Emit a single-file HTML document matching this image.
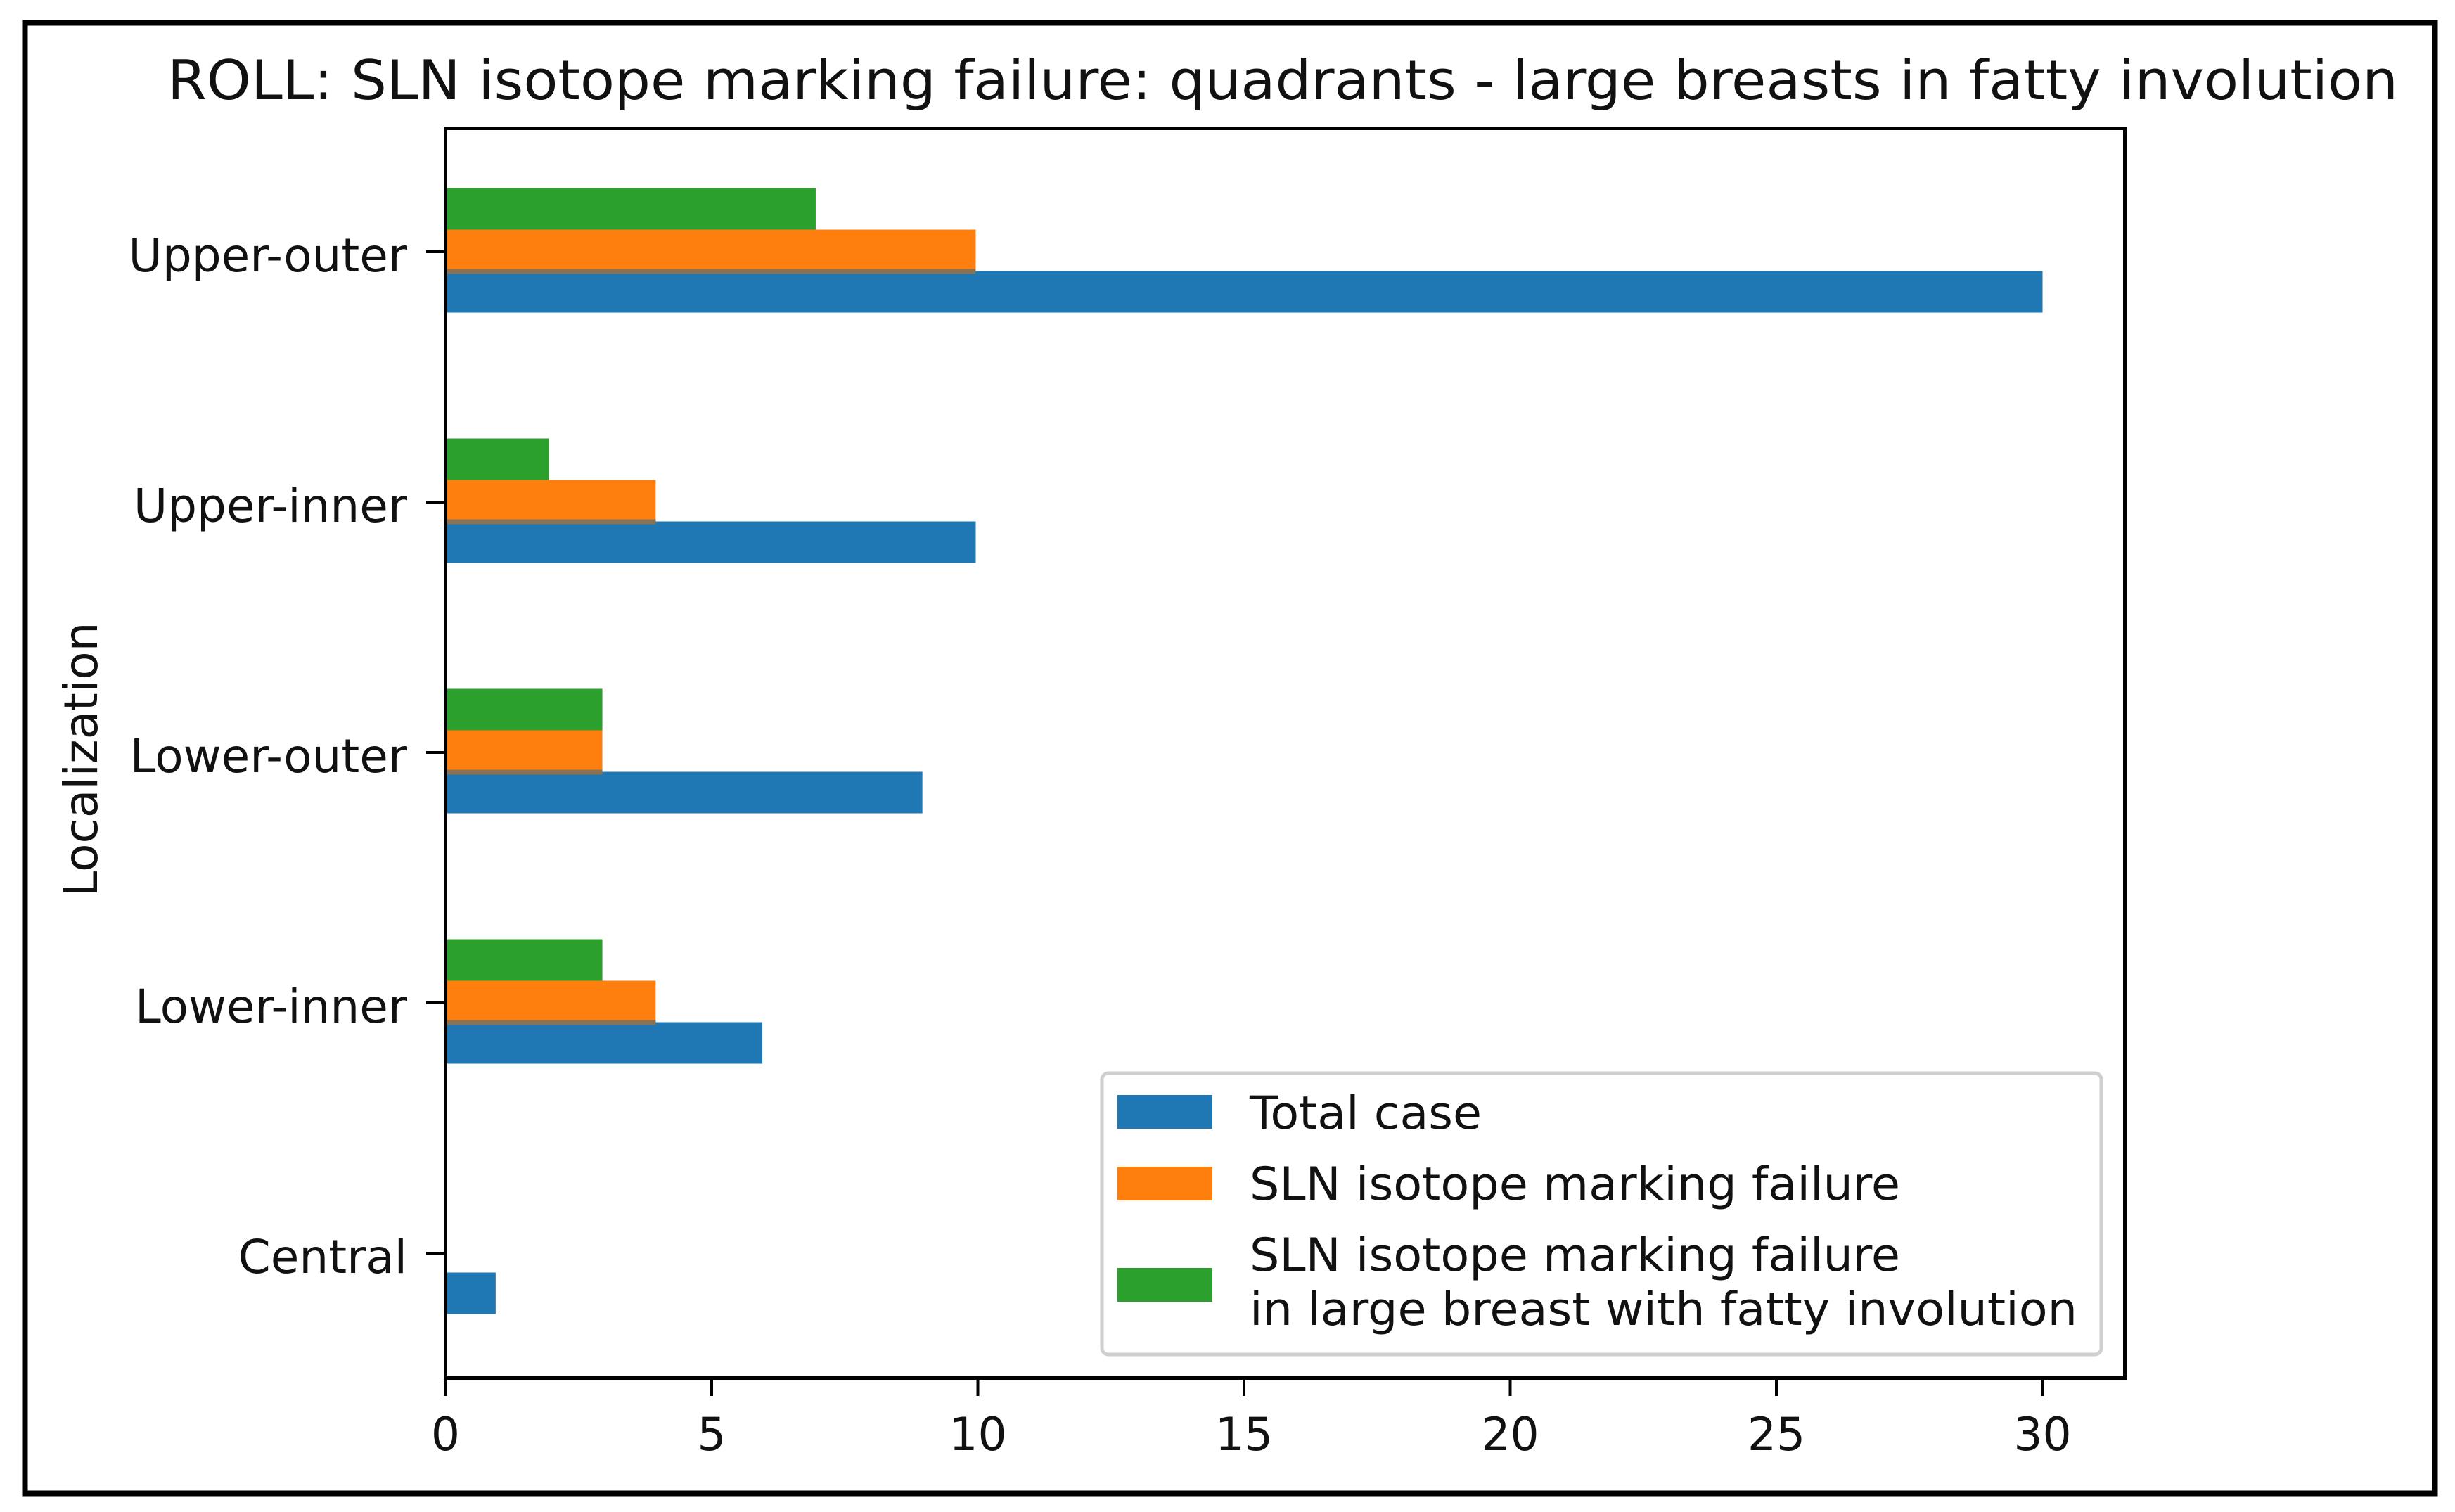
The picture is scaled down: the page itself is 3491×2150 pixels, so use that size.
<!DOCTYPE html>
<html lang="en">
<head>
<meta charset="utf-8">
<title>ROLL: SLN isotope marking failure</title>
<style>
  html, body { margin: 0; padding: 0; background: #fff; }
  svg { display: block; }
  text { font-family: "DejaVu Sans", "Liberation Sans", sans-serif; fill: #111; }
</style>
</head>
<body>
<svg id="chart" xmlns="http://www.w3.org/2000/svg" width="3491" height="2150" viewBox="0 0 3491 2150">
  <rect x="0" y="0" width="3491" height="2150" fill="#fff"/>
  <rect x="35.5" y="32.5" width="3427" height="2091" fill="none" stroke="#000" stroke-width="8"/>
  <text x="238" y="141" font-size="77.6" textLength="3172" lengthAdjust="spacingAndGlyphs">ROLL: SLN isotope marking failure: quadrants - large breasts in fatty involution</text>
  <text x="138" y="1080" font-size="66" text-anchor="middle" transform="rotate(-90 138 1080)">Localization</text>
  <g id="bars"></g>
  <g id="ticks"></g>
  <rect x="633.5" y="182.5" width="2388" height="1777" fill="none" stroke="#000" stroke-width="5"/>
  <g>
    <rect x="1567" y="1526" width="1421" height="400" rx="9" ry="9" fill="#fff" fill-opacity="0.9" stroke="#cfcfcf" stroke-width="5"/>
    <rect x="1589" y="1557" width="135" height="48" fill="#1f77b4"/>
    <text x="1777" y="1605" font-size="64.7" textLength="330" lengthAdjust="spacingAndGlyphs">Total case</text>
    <rect x="1589" y="1659" width="135" height="48" fill="#ff7f0e"/>
    <text x="1777" y="1706" font-size="64.7" textLength="925" lengthAdjust="spacingAndGlyphs">SLN isotope marking failure</text>
    <rect x="1589" y="1803" width="135" height="48" fill="#2ca02c"/>
    <text x="1777" y="1807" font-size="64.7" textLength="925" lengthAdjust="spacingAndGlyphs">SLN isotope marking failure</text>
    <text x="1777" y="1884" font-size="64.7" textLength="1177" lengthAdjust="spacingAndGlyphs">in large breast with fatty involution</text>
  </g>
</svg>
<script>
const categories = ["Central", "Lower-inner", "Lower-outer", "Upper-inner", "Upper-outer"];
const totalCase = [1, 6, 9, 10, 30];
const markingFailure = [0, 4, 3, 4, 10];
const fattyInvolutionFailure = [0, 3, 3, 2, 7];
const xTickValues = [0, 5, 10, 15, 20, 25, 30];

const SVG_NS = "http://www.w3.org/2000/svg";
const barsGroup = document.getElementById("bars");
const ticksGroup = document.getElementById("ticks");

function xScale(v) { return 633.5 + v * 75.7; }
function barEnd(v) { return 629 + v * 75.85; }
function yScale(i) { return 1780 - i * 356; }
function barWidth(v) { return Math.max(0, barEnd(v) - xScale(0)); }

function drawBar(cat, value, seriesIndex, color, seriesName) {
  const r = document.createElementNS(SVG_NS, "rect");
  const h = 59;
  r.setAttribute("x", xScale(0));
  r.setAttribute("y", yScale(cat) + 29.5 - seriesIndex * h);
  r.setAttribute("width", value > 0 ? barWidth(value) : 0);
  r.setAttribute("height", h);
  r.setAttribute("fill", color);
  
  
  barsGroup.appendChild(r);
}

function drawSeam(cat) {
  const shared = Math.min(totalCase[cat], markingFailure[cat]);
  if (shared <= 0) return;
  const s = document.createElementNS(SVG_NS, "rect");
  s.setAttribute("x", xScale(0));
  s.setAttribute("y", yScale(cat) + 26.5);
  s.setAttribute("width", barWidth(shared));
  s.setAttribute("height", 7);
  s.setAttribute("fill", "#8a7355");
  
  
  barsGroup.appendChild(s);
}

categories.forEach(function (name, i) {
  drawBar(i, fattyInvolutionFailure[i], 2, "#2ca02c", "fatty-involution");
  drawBar(i, markingFailure[i], 1, "#ff7f0e", "marking-failure");
  drawBar(i, totalCase[i], 0, "#1f77b4", "total-case");
  drawSeam(i);

  const tick = document.createElementNS(SVG_NS, "line");
  tick.setAttribute("x1", 606);
  tick.setAttribute("x2", 633.5);
  tick.setAttribute("y1", yScale(i) + 2);
  tick.setAttribute("y2", yScale(i) + 2);
  tick.setAttribute("stroke", "#000");
  tick.setAttribute("stroke-width", 4);
  
  
  ticksGroup.appendChild(tick);

  const label = document.createElementNS(SVG_NS, "text");
  label.setAttribute("x", 579);
  label.setAttribute("y", yScale(i) + 30);
  label.setAttribute("font-size", 66);
  label.setAttribute("text-anchor", "end");
  
  
  label.textContent = name;
  ticksGroup.appendChild(label);
});

xTickValues.forEach(function (v) {
  const tick = document.createElementNS(SVG_NS, "line");
  tick.setAttribute("x1", xScale(v));
  tick.setAttribute("x2", xScale(v));
  tick.setAttribute("y1", 1959.5);
  tick.setAttribute("y2", 1985);
  tick.setAttribute("stroke", "#000");
  tick.setAttribute("stroke-width", 4);
  
  
  ticksGroup.appendChild(tick);

  const label = document.createElementNS(SVG_NS, "text");
  label.setAttribute("x", xScale(v));
  label.setAttribute("y", 2062);
  label.setAttribute("font-size", 64.7);
  label.setAttribute("text-anchor", "middle");
  
  
  label.textContent = v;
  ticksGroup.appendChild(label);
});
</script>
</body>
</html>
